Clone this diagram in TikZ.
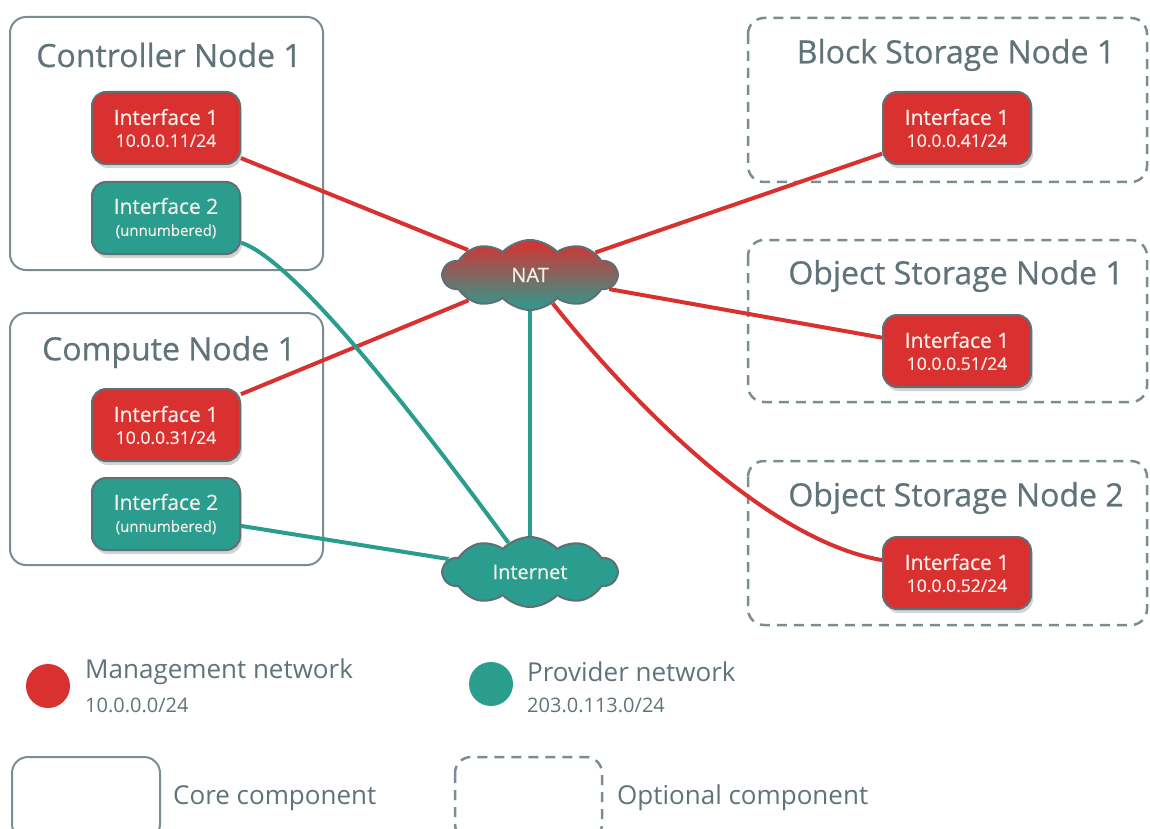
\documentclass[tikz,border=0pt]{standalone}
\usepackage{fontspec}
\setmainfont{Open Sans}
\newfontfamily\semib{Open Sans}[FakeBold=0.6]
\usetikzlibrary{shapes.symbols,shadows}
\definecolor{netred}{HTML}{D93030}
\definecolor{netteal}{HTML}{2A9D8F}
\definecolor{boxgray}{HTML}{7B8D93}
\definecolor{txtgray}{HTML}{5F7379}
\definecolor{ifborder}{HTML}{5E7076}
\definecolor{iftext}{HTML}{F3EFE8}
\tikzset{
  corebox/.style={draw=boxgray, line width=2pt, rounded corners=16pt},
  optbox/.style={draw=boxgray, line width=2.5pt, rounded corners=16pt, dash pattern=on 10pt off 7pt},
  title/.style={text=txtgray, font=\semib\fontsize{32}{38}\selectfont, inner sep=0pt},
  iface/.style={draw=ifborder, line width=2pt, rounded corners=14pt, minimum width=148pt, minimum height=72pt,
     text=iftext, align=center, inner sep=0pt, font=\semib\fontsize{21}{22}\selectfont,
     drop shadow={shadow xshift=2pt, shadow yshift=-4pt, opacity=0.35}},
  redif/.style={iface, fill=netred},
  tealif/.style={iface, fill=netteal},
  cloudn/.style={cloud, cloud puffs=10, cloud puff arc=95, aspect=2.6, draw=ifborder, line width=2pt,
     minimum width=174pt, minimum height=70pt, inner sep=0pt, text=iftext, font=\semib\fontsize{20}{24}\selectfont},
  redline/.style={draw=netred, line width=4pt},
  tealline/.style={draw=netteal, line width=4pt},
  legtxt/.style={text=txtgray, anchor=west, inner sep=0pt, font=\fontsize{26}{30}\selectfont},
  legsub/.style={text=txtgray, anchor=west, inner sep=0pt, font=\fontsize{20}{24}\selectfont},
}
\newcommand{\ifl}[2]{\raisebox{-3pt}{#1}\\{\fontsize{17.5}{22}\selectfont\raisebox{-3pt}{#2}}}
\newcommand{\ifu}[2]{\raisebox{-3pt}{#1}\\{\fontsize{15}{22}\selectfont\raisebox{-3pt}{#2}}}
\begin{document}
\begin{tikzpicture}[x=1pt,y=-1pt]
\useasboundingbox (0,0) rectangle (1150,829);
% outer boxes
\draw[corebox] (10,17) rectangle (323,270);
\draw[corebox] (10,313) rectangle (323,565);
\draw[optbox] (748,18) rectangle (1147,182);
\draw[optbox] (748,240) rectangle (1147,402);
\draw[optbox] (748,461) rectangle (1147,625);
% titles
\node[title] (t1) at (169,55) {Controller Node 1};
\node[title] (t2) at (169,352) {Compute Node 1};
\node[title] (t3) at (956,55) {Block Storage Node 1};
\node[title] (t4) at (956,276) {Object Storage Node 1};
\node[title] (t5) at (956,498) {Object Storage Node 2};
% interfaces
\node[redif] (c1i1) at (166,128) {\ifl{Interface 1}{10.0.0.11/24}};
\node[tealif] (c1i2) at (166,218) {\ifu{Interface 2}{(unnumbered)}};
\node[redif] (c2i1) at (166,425) {\ifl{Interface 1}{10.0.0.31/24}};
\node[tealif] (c2i2) at (166,514) {\ifu{Interface 2}{(unnumbered)}};
\node[redif] (bi1) at (957,128) {\ifl{Interface 1}{10.0.0.41/24}};
\node[redif] (o1i1) at (957,351) {\ifl{Interface 1}{10.0.0.51/24}};
\node[redif] (o2i1) at (957,573) {\ifl{Interface 1}{10.0.0.52/24}};
% clouds
\node[cloudn, top color=netred, bottom color=netteal] (nat) at (530,275) {NAT};
\node[cloudn, fill=netteal] (inet) at (530,572) {Internet};
% connectors
\draw[redline] (c1i1) -- (nat);
\draw[redline] (c2i1) -- (nat);
\draw[redline] (nat) -- (bi1);
\draw[redline] (nat) -- (o1i1);
\draw[redline] (nat) .. controls (630,400) and (765,540) .. (o2i1);
\draw[tealline] (nat) -- (inet);
\draw[tealline] (c2i2) -- (inet);
\draw[tealline] (c1i2) .. controls (300,262) and (440,450) .. (inet);
% legend
\node[circle, fill=netred, minimum size=44pt, inner sep=0pt] (lr) at (48,686) {};
\node[legtxt] (lrt) at (85,672) {Management network};
\node[legsub] (lrs) at (85,705) {10.0.0.0/24};
\node[circle, fill=netteal, minimum size=44pt, inner sep=0pt] (lt) at (491,684) {};
\node[legtxt] (ltt) at (527,672) {Provider network};
\node[legsub] (lts) at (527,705) {203.0.113.0/24};
\draw[corebox] (12,757) rectangle (160,840);
\node[legtxt] (lc) at (173,798) {Core component};
\draw[optbox] (455,757) rectangle (602,840);
\node[legtxt] (lo) at (617,798) {Optional component};
\end{tikzpicture}
\end{document}
